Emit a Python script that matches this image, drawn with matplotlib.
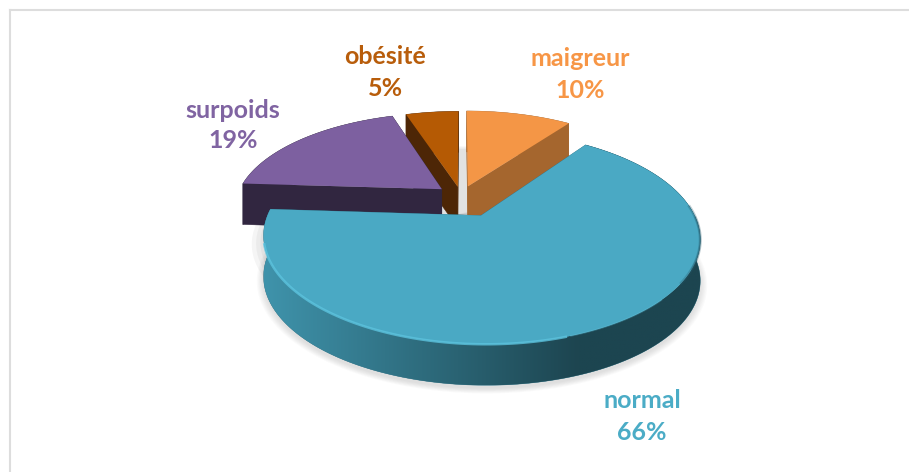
import numpy as np
import matplotlib
matplotlib.use('Agg')
import matplotlib.pyplot as plt
from matplotlib.colors import to_rgb

# ===== DATA =====
categories = ['maigreur', 'normal', 'surpoids', 'obésité']
values = [10, 66, 19, 5]
explode = [0.11, 0.22, 0.12, 0.1]
pct_labels = ['10%', '66%', '19%', '5%']
top_colors = ['#F49646', '#4AA9C4', '#7D60A0', '#B55A04']
side_colors = ['#A5662E', '#2F7286', '#312640', '#4D2606']
text_colors = ['#F79646', '#4BACC6', '#8064A2', '#B85D0B']
label_pos = [(580, 58, 90), (642, 400, 432), (233, 110, 141), (385, 56, 88)]

# ===== CAMERA =====
CX, CY = 461, 196
RX, RY = 205, 94
PERSP = 0.2
DEPTH = 41

plt.rcParams['font.family'] = ['Lato', 'DejaVu Sans']


def project(X, Y, z=0.0):
    w = 1 + PERSP * np.asarray(Y)
    return CX + RX * np.asarray(X) / w, CY - RY * np.asarray(Y) / w + z * DEPTH


def rim_xy(theta, tip, r=1.0):
    return tip[0] + r * np.sin(theta), tip[1] + r * np.cos(theta)


fig = plt.figure(figsize=(9.09, 4.72), dpi=100)
ax = fig.add_axes([0, 0, 1, 1])

# chart frame, only top and left show
ax.plot([9.5, 909], [10, 10], color='#DDDDDD', lw=1.5)
ax.plot([10, 10], [10, 472], color='#DDDDDD', lw=1.5)

fracs = np.array(values) / sum(values) * 2 * np.pi
starts = np.concatenate([[0], np.cumsum(fracs)[:-1]])
mids = starts + fracs / 2
tips = [(e * np.sin(m), e * np.cos(m)) for e, m in zip(explode, mids)]

# soft ground shadow
t_all = np.linspace(0, 2 * np.pi, 300)
for r in [1.0, 0.98, 0.96]:
    x, y = project(*rim_xy(t_all, (0, 0), r), 0.7)
    ax.fill(x, y, color='#555555', alpha=0.06, lw=0, zorder=1)
t_blue = np.linspace(starts[1], starts[1] + fracs[1], 200)
for r in [1.03, 1.025, 1.02, 1.015, 1.01, 1.005, 1.0]:
    x, y = project(*rim_xy(t_blue, tips[1], r), 1.08)
    ax.fill(x, y, color='#444444', alpha=0.025, lw=0, zorder=1)

# left to right shading for the blue wall
stops = np.linspace(0, 1, 256)
c1, c2 = np.array(to_rgb('#3F93AB')), np.array(to_rgb('#1D4550'))
shade = np.clip(stops / 0.72, 0, 1)[None, :, None] * (c2 - c1)[None, None, :] + c1[None, None, :]

# slices back to front
order = [0, 3, 2, 1]
for n, i in enumerate(order):
    base = 2 + n * 2
    t = np.linspace(starts[i], starts[i] + fracs[i], 200)
    rx, ry = rim_xy(t, tips[i])
    tx, ty = project(tips[i][0], tips[i][1])
    bx, by = project(tips[i][0], tips[i][1], 1)
    # cut faces
    for k in (0, -1):
        xa, ya = project(rx[k], ry[k])
        xb, yb = project(rx[k], ry[k], 1)
        ax.fill([tx, xa, xb, bx], [ty, ya, yb, by], color=side_colors[i],
                lw=0.3, zorder=base)
    # outer wall
    xt, yt = project(rx, ry)
    xl, yl = project(rx, ry, 1)
    wall = ax.fill(np.r_[xt, xl[::-1]], np.r_[yt, yl[::-1]], color=side_colors[i],
                   lw=0.3, zorder=base)[0]
    if i == 1:
        im = ax.imshow(shade, extent=[xt.min(), xt.max(), yl.max(), yt.min()],
                       aspect='auto', interpolation='bilinear', zorder=base)
        im.set_clip_path(wall)
    # top face
    ax.fill(np.r_[tx, xt], np.r_[ty, yt], color=top_colors[i], lw=0, zorder=base + 1)
    if i == 1:
        # bevel on the front edge
        for lo, hi, col, lw, a in [(0.75, 0.9, '#5CC3DE', 1.2, 0.3),
                                   (0.9, 1.42, '#5CC3DE', 1.8, 0.8),
                                   (0.47, 0.7, '#24596A', 2.2, 0.3),
                                   (0.5, 0.66, '#24596A', 1.2, 0.4)]:
            sel = (t > np.pi * lo) & (t < np.pi * hi)
            ax.plot(xt[sel], yt[sel], color=col, lw=lw, alpha=a, zorder=base + 1)

for name, pct, col, (lx, ly1, ly2) in zip(categories, pct_labels, text_colors, label_pos):
    ax.text(lx, ly1, name, color=col, fontsize=18, fontweight='bold', ha='center', va='center', zorder=20)
    ax.text(lx, ly2, pct, color=col, fontsize=18, fontweight='bold', ha='center', va='center', zorder=20)

ax.set_xlim(0, 909)
ax.set_ylim(472, 0)
ax.axis('off')

fig.savefig('out.png', dpi=100)
